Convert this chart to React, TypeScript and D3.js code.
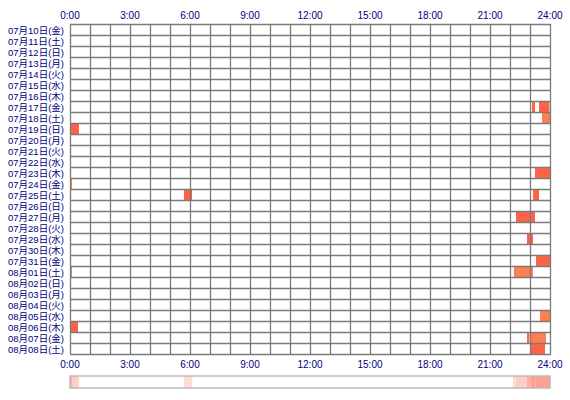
import React from 'react';
import * as d3 from 'd3';

// days shown, top to bottom
const days = [
  '07月10日(金)', '07月11日(土)', '07月12日(日)', '07月13日(月)', '07月14日(火)',
  '07月15日(水)', '07月16日(木)', '07月17日(金)', '07月18日(土)', '07月19日(日)',
  '07月20日(月)', '07月21日(火)', '07月22日(水)', '07月23日(木)', '07月24日(金)',
  '07月25日(土)', '07月26日(日)', '07月27日(月)', '07月28日(火)', '07月29日(水)',
  '07月30日(木)', '07月31日(金)', '08月01日(土)', '08月02日(日)', '08月03日(月)',
  '08月04日(火)', '08月05日(水)', '08月06日(木)', '08月07日(金)', '08月08日(土)',
];

const hourTicks = [0, 3, 6, 9, 12, 15, 18, 21, 24];

// sessions: [day index, start hour, end hour, kind]
const sessDay = [7, 7, 8, 9, 13, 14, 15, 15, 17, 19, 21, 22, 22, 26, 27, 28, 28, 29];
const sessStart = [23.1, 23.45, 23.6, 0.03, 23.25, 0.02, 5.7, 23.15, 22.3, 22.85, 23.3, 0.02, 22.2, 23.5, 0.05, 22.85, 23.05, 23.05];
const sessEnd = [23.25, 23.97, 24.0, 0.45, 24.0, 0.1, 6.1, 23.45, 23.25, 23.15, 24.0, 0.1, 23.15, 24.0, 0.4, 22.97, 23.8, 23.75];
const sessKind = ['a', 'a', 'b', 'a', 'a', 'b', 'a', 'a', 'a', 'a', 'a', 'b', 'b', 'b', 'a', 'a', 'b', 'a'];

const kindColor: Record<string, string> = { a: '#ff6347', b: '#ff7f50' };

const App: React.FC = () => {
  const width = 570;
  const height = 400;
  const left = 70;
  const right = 550;
  const top = 24;
  const rowH = 11;
  const bottom = top + rowH * days.length;

  const x = d3.scaleLinear().domain([0, 24]).range([left, right]);
  const y = d3.scaleBand().domain(d3.range(days.length).map(String)).range([top, bottom]);

  const sessions = sessDay.map((d, i) => ({ d, s: sessStart[i], e: sessEnd[i], k: sessKind[i] }));

  // summary strip: count overlapping sessions in small bins
  const step = 0.05;
  const bins = d3.range(0, 24, step).map(b => ({
    b,
    n: sessions.filter(s => s.s < b + step && s.e > b).length,
  })).filter(b => b.n > 0);
  const heat = (n: number) => d3.interpolateRgb('#ffffff', '#ff6347')(Math.min(0.22 + 0.1 * (n - 1), 0.6));

  const font = "'Liberation Sans', 'Noto Sans CJK JP', sans-serif";
  const navy = '#000080';

  return (
    <svg width={width} height={height} style={{ position: 'absolute', left: 0, top: 0, background: '#fff' }}>
      {/* sessions */}
      {sessions.map((s, i) => (
        <rect key={'s' + i}
          x={x(s.s)} y={y(String(s.d))!} width={x(s.e) - x(s.s)} height={y.bandwidth()}
          fill={kindColor[s.k]} />
      ))}
      {/* grid */}
      {d3.range(0, 25).map(h => (
        <line key={'v' + h} x1={Math.round(x(h)) + 0.5} x2={Math.round(x(h)) + 0.5} y1={top} y2={bottom}
          stroke="#7a7a7a" strokeWidth={1.3} />
      ))}
      {d3.range(0, days.length + 1).map(i => (
        <line key={'h' + i} x1={left} x2={right + 1} y1={top + i * rowH + 0.5} y2={top + i * rowH + 0.5}
          stroke="#7a7a7a" strokeWidth={1.3} />
      ))}
      {/* day labels */}
      {days.map((d, i) => (
        <text key={'d' + i} x={left - 6} y={y(String(i))! + rowH / 2 + 0.5} textAnchor="end"
          dominantBaseline="central" fill={navy} fontFamily={font} fontSize={9.6}
          textLength={56} lengthAdjust="spacingAndGlyphs">{d}</text>
      ))}
      {/* hour labels top and bottom */}
      {hourTicks.map(h => (
        <g key={'t' + h}>
          <text x={x(h)} y={15} textAnchor="middle" dominantBaseline="central" fill={navy}
            fontFamily={font} fontSize={10}>{h}:00</text>
          <text x={x(h)} y={364} textAnchor="middle" dominantBaseline="central" fill={navy}
            fontFamily={font} fontSize={10}>{h}:00</text>
        </g>
      ))}
      {/* summary strip */}
      <rect x={left} y={376} width={right - left} height={12} fill="#fff" />
      {bins.map(b => (
        <rect key={'b' + b.b} x={x(b.b)} y={376} width={x(b.b + step) - x(b.b) + 0.3} height={12} fill={heat(b.n)} />
      ))}
      <rect x={left} y={376} width={right - left} height={12} fill="none" stroke="#bbbbbb" strokeWidth={1.5} />
    </svg>
  );
};

export default App;
